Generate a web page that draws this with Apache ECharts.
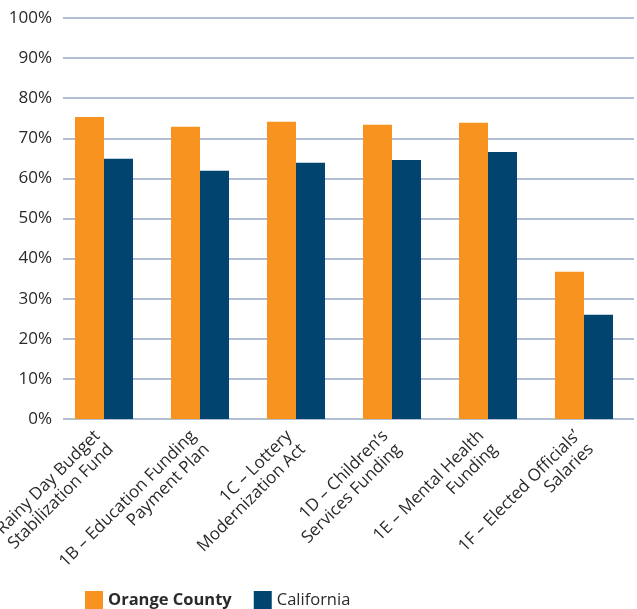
<!DOCTYPE html>
<html>
<head>
<meta charset="utf-8">
<script src="https://cdn.jsdelivr.net/npm/echarts@6/dist/echarts.min.js"></script>
<style>
html,body{margin:0;padding:0;background:#fff;}
#chart{width:637px;height:609px;}
</style>
</head>
<body>
<div id="chart"></div>
<script>
var categories = [
  "1A – Rainy Day Budget\nStabilization Fund",
  "1B – Education Funding\nPayment Plan",
  "1C – Lottery\nModernization Act",
  "1D – Children’s\nServices Funding",
  "1E – Mental Health\nFunding",
  "1F – Elected Officials’\nSalaries"
];
var orangeCounty = [75.3, 72.9, 74.1, 73.4, 73.9, 36.7];
var california = [64.9, 61.9, 63.9, 64.6, 66.6, 26.0];
var yTicks = [0, 10, 20, 30, 40, 50, 60, 70, 80, 90, 100];

var FONT = "'Open Sans', 'Noto Sans', sans-serif";
var TEXT = '#2a2a2a';

var chart = echarts.init(document.getElementById('chart'), null, {renderer: 'canvas'});
chart.setOption({
  animation: false,
  backgroundColor: '#ffffff',
  textStyle: {fontFamily: FONT},
  grid: [
    {left: 56, right: 5, top: 18, bottom: 190, containLabel: false, outerBoundsMode: 'none'},
    {left: 63, right: 3, top: 18, bottom: 190, containLabel: false, outerBoundsMode: 'none'}
  ],
  legend: {
    left: 85,
    top: 591,
    padding: 0,
    itemWidth: 18,
    itemHeight: 18,
    itemGap: 22,
    icon: 'rect',
    textStyle: {fontFamily: FONT, fontSize: 16.5, color: TEXT},
    data: [
      {name: 'Orange County', textStyle: {fontWeight: 'bold'}},
      {name: 'California', textStyle: {fontWeight: 'normal'}}
    ]
  },
  xAxis: [
    {
      type: 'category',
      gridIndex: 0,
      data: categories,
      axisLine: {show: false},
      axisTick: {show: false},
      splitLine: {show: false},
      axisLabel: {
        interval: 0,
        rotate: 45,
        margin: 21,
        hideOverlap: false,
        fontFamily: FONT,
        fontSize: 17,
        color: TEXT,
        lineHeight: 19
      }
    },
    {
      type: 'value',
      gridIndex: 1,
      show: false
    }
  ],
  yAxis: [
    {
      type: 'value',
      gridIndex: 0,
      min: 0, max: 100, interval: 10,
      axisLine: {show: false},
      axisTick: {show: false},
      splitLine: {show: false},
      axisLabel: {
        margin: 4,
        fontFamily: FONT,
        fontSize: 17,
        color: TEXT,
        padding: [3, 0, 0, 0],
        formatter: function (v) { return yTicks.indexOf(v) >= 0 ? v + '%' : ''; }
      }
    },
    {
      type: 'value',
      gridIndex: 1,
      min: 0, max: 100, interval: 10,
      axisLine: {show: false},
      axisTick: {show: false},
      axisLabel: {show: false},
      splitLine: {show: true, lineStyle: {color: '#98AAC6', width: 1.5}}
    }
  ],
  series: [
    {
      name: 'Orange County',
      type: 'bar',
      xAxisIndex: 0, yAxisIndex: 0,
      data: orangeCounty,
      barWidth: 29,
      barGap: '0%',
      itemStyle: {color: '#F7931E'},
      z: 3
    },
    {
      name: 'California',
      type: 'bar',
      xAxisIndex: 0, yAxisIndex: 0,
      data: california,
      barWidth: 29,
      barGap: '0%',
      itemStyle: {color: '#00446F'},
      z: 3
    }
  ]
});
</script>
</body>
</html>
